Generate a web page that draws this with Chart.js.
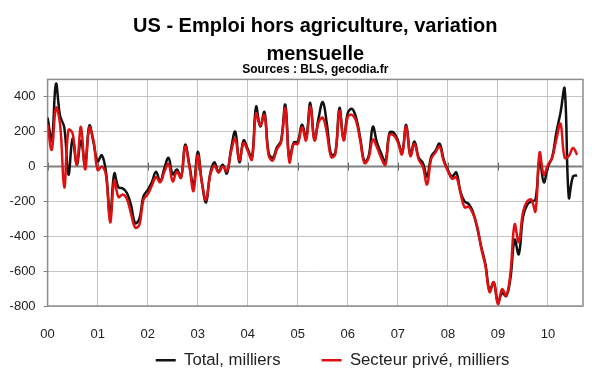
<!DOCTYPE html>
<html>
<head>
<meta charset="utf-8">
<script src="https://cdn.jsdelivr.net/npm/chart.js@4.4.0/dist/chart.umd.min.js"></script>
<style>
  html, body { margin: 0; padding: 0; background: #fff; }
</style>
</head>
<body>
<canvas id="emploiChart" width="600" height="372"></canvas>
<script>
// ========== DATA: variation mensuelle, milliers (jan 2000 -> aout 2010) ==========
const yearLabels = ['00', '01', '02', '03', '04', '05', '06', '07', '08', '09', '10'];
const yTicks = [-800, -600, -400, -200, 0, 200, 400];

const totalEmploi = [
  280, 150, 474, 290, 225, -46, 160, 10, 150, 15, 235, 140,          // 2000
  30, 65, -30, -280, -40, -120, -125, -150, -220, -325, -300, -170,   // 2001
  -135, -90, -30, -85, -10, 50, -45, -17, -63, 125, 10, -110,         // 2002
  85, -90, -205, -40, 25, -30, 10, -40, 100, 200, 25, 150,            // 2003
  100, 50, 343, 230, 313, 80, 50, 110, 150, 354, 40, 137,             // 2004
  143, 240, 166, 366, 155, 280, 370, 240, 68, 80, 337, 155,           // 2005
  308, 331, 280, 160, 28, 60, 228, 137, 75, 28, 194, 194,             // 2006
  150, 80, 240, 68, 143, 51, 20, -57, 57, 90, 131, 40,                // 2007
  -20, -57, -34, -143, -200, -215, -260, -350, -460, -560, -710, -665, // 2008
  -779, -726, -743, -640, -420, -503, -290, -220, -200, -190, 40, -91, // 2009
  0, 51, 194, 308, 446, -177, -57, -51                                // 2010
];

const secteurPrive = [
  240, 97, 337, 240, -120, 210, 190, 10, 228, -17, 222, 150,
  -20, 0, -50, -320, -80, -175, -160, -185, -270, -350, -335, -190,
  -160, -110, -60, -90, -30, 15, -85, -30, -65, 115, 0, -140,
  65, -90, -190, -50, 5, -35, 0, -25, 85, 160, 35, 135,
  90, 40, 305, 235, 295, 65, 35, 100, 140, 335, 25, 130,
  130, 225, 150, 345, 150, 255, 280, 190, 55, 70, 320, 150,
  285, 297, 260, 145, 20, 50, 155, 110, 50, 10, 180, 180,
  140, 70, 230, 60, 130, 40, 0, -103, 45, 80, 115, 30,
  -25, -70, -60, -150, -234, -230, -270, -340, -470, -570, -720, -663,
  -789, -703, -740, -610, -331, -434, -263, -200, -190, -257, 80, -46,
  10, 51, 154, 246, 51, 61, 107, 67
];

const toPoints = arr => arr.map((v, i) => ({ x: i, y: v }));

Chart.defaults.font.family = "'Liberation Sans', Arial, sans-serif";
Chart.defaults.color = '#222';

// cadre gris, ligne du zero et petits traits annuels
const cadrePlugin = {
  id: 'cadre',
  beforeDatasetsDraw(chart) {
    const { ctx, chartArea: a, scales: { x, y } } = chart;
    const y0 = y.getPixelForValue(0);
    ctx.save();
    ctx.strokeStyle = '#808080';
    ctx.lineWidth = 2;
    ctx.beginPath();
    ctx.moveTo(a.left, y0);
    ctx.lineTo(a.right, y0);
    ctx.stroke();
    ctx.lineWidth = 1;
    ctx.strokeStyle = '#666';
    yearLabels.forEach((l, k) => {
      const px = Math.round(x.getPixelForValue(k * 12)) + 0.5;
      ctx.beginPath();
      ctx.moveTo(px, y0 - 4);
      ctx.lineTo(px, y0 + 4);
      ctx.stroke();
    });
    ctx.strokeStyle = '#8c8c8c';
    ctx.lineWidth = 1.5;
    ctx.strokeRect(a.left, a.top, a.right - a.left, a.bottom - a.top);
    ctx.restore();
  }
};

const emploiChart = new Chart(document.getElementById('emploiChart'), {
  type: 'line',
  data: {
    datasets: [{
      label: 'Total, milliers',
      data: toPoints(totalEmploi),
      borderColor: '#111111',
      backgroundColor: '#111111',
      borderWidth: 2.5,
      pointRadius: 0,
      tension: 0.4,
      order: 2
    }, {
      label: 'Secteur privé, milliers',
      data: toPoints(secteurPrive),
      borderColor: '#dd1111',
      backgroundColor: '#dd1111',
      borderWidth: 2.5,
      pointRadius: 0,
      tension: 0.4,
      order: 1
    }]
  },
  options: {
    responsive: false,
    animation: false,
    layout: { padding: { left: 0, right: 17, top: 0, bottom: 0 } },
    plugins: {
      title: {
        display: true,
        text: ['US - Emploi hors agriculture, variation', 'mensuelle'],
        color: '#000',
        fullSize: false,
        font: { size: 20, weight: 'bold', lineHeight: 1.4 },
        padding: { top: 12, bottom: 0 }
      },
      subtitle: {
        display: true,
        text: 'Sources : BLS, gecodia.fr',
        color: '#000',
        fullSize: false,
        font: { size: 12, weight: 'bold', lineHeight: 1.2 },
        padding: { top: -6, bottom: 3 }
      },
      legend: {
        position: 'bottom',
        align: 'end',
        fullSize: false,
        maxHeight: 24,
        labels: {
          usePointStyle: true,
          pointStyle: 'line',
          pointStyleWidth: 20,
          padding: 4,
          color: '#222',
          font: { size: 16.7 },
          sort: (a, b) => a.datasetIndex - b.datasetIndex,
          generateLabels(chart) {
            const items = Chart.defaults.plugins.legend.labels.generateLabels(chart);
            items.forEach(it => { it.text += ' '.repeat(it.datasetIndex === 0 ? 8 : 15); });
            return items;
          }
        }
      },
      tooltip: { enabled: false }
    },
    scales: {
      x: {
        type: 'linear',
        min: 0,
        max: 128.4,
        afterBuildTicks: scale => { scale.ticks = yearLabels.map((l, k) => ({ value: k * 12 })); },
        afterFit: scale => { scale.height = 42; },
        ticks: {
          padding: 21,
          font: { size: 13 },
          callback: value => yearLabels[Math.round(value / 12)]
        },
        grid: { color: '#c4c4c4', borderDash: [2, 3], drawTicks: false },
        border: { display: false }
      },
      y: {
        min: -800,
        max: 500,
        afterBuildTicks: scale => { scale.ticks = yTicks.map(v => ({ value: v })); },
        afterFit: scale => { scale.width = 47.6; },
        ticks: { padding: 8, font: { size: 13 } },
        grid: {
          color: '#c4c4c4',
          borderDash: [2, 3],
          tickLength: 4,
          tickColor: '#808080',
          tickBorderDash: []
        },
        border: { display: false }
      }
    }
  },
  plugins: [cadrePlugin]
});
</script>
</body>
</html>
